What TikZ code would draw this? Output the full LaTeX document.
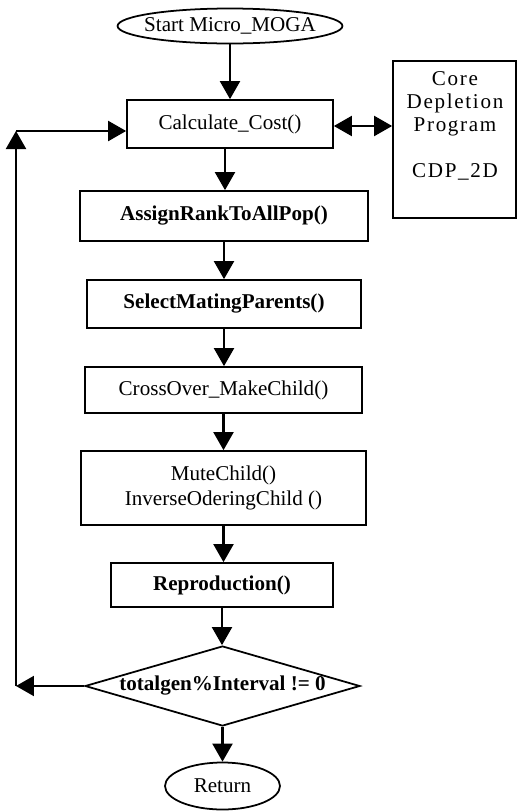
\documentclass[tikz,border=0pt]{standalone}
\usepackage{fontspec}
\setmainfont{Liberation Serif}
\newfontfamily\spacedfont[LetterSpace=8]{Liberation Serif}
\usetikzlibrary{shapes.geometric,arrows.meta}

\begin{document}
\begin{tikzpicture}[x=0.02cm,y=-0.02cm,
  font=\fontsize{12}{14}\selectfont,
  >={Triangle[width=0.4cm,length=0.36cm]},
  box/.style={draw,line width=1pt,inner sep=0pt},
  term/.style={draw,ellipse,line width=1pt,inner sep=0pt},
  decision/.style={draw,diamond,line width=1pt,inner sep=0pt,
    minimum width=5.5cm,minimum height=1.6cm},
  arr/.style={line width=1.2pt,->}]
  \useasboundingbox (0,0) rectangle (517,812);
  % main flow
  \node[term,minimum width=4.5cm,minimum height=0.7cm] (start) at (230,26)
    {\makebox[0pt]{Start Micro\_MOGA}};
  \node[box,minimum width=4.12cm,minimum height=0.96cm] (calc) at (230,124)
    {Calculate\_Cost()};
  \node[box,minimum width=5.76cm,minimum height=1.0cm,font=\fontsize{12}{14}\selectfont\bfseries] (rank) at (224,216)
    {AssignRankToAllPop()};
  \node[box,minimum width=5.48cm,minimum height=0.96cm,font=\fontsize{12}{14}\selectfont\bfseries] (select) at (224,304)
    {SelectMatingParents()};
  \node[box,minimum width=5.54cm,minimum height=0.92cm] (cross) at (223.5,390)
    {CrossOver\_MakeChild()};
  \node[box,minimum width=5.7cm,minimum height=1.48cm,align=center] (mute) at (223.5,488)
    {MuteChild()\\InverseOderingChild ()};
  \node[box,minimum width=4.44cm,minimum height=0.88cm,font=\fontsize{12}{14}\selectfont\bfseries] (repro) at (222,585)
    {Reproduction()};
  \node[decision] (check) at (222.5,686)
    {\makebox[0pt]{\bfseries totalgen\%Interval != 0}};
  \node[term,minimum width=2.3cm,minimum height=0.94cm] (ret) at (222.5,786)
    {\makebox[0pt]{Return}};
  % external program
  \node[box,minimum width=2.46cm,minimum height=3.14cm] (cdp) at (454.5,139.5) {};
  \node[align=center,font=\spacedfont\fontsize{12}{13}\selectfont] (cdptxt) at (455,126)
    {Core\\Depletion\\Program\\[13pt]CDP\_2D};
  % arrows down
  \draw[arr] (start.south) -- (start.south |- calc.north);
  \draw[arr] ([xshift=-0.1cm]calc.south) -- ([xshift=-0.1cm]calc.south |- rank.north);
  \draw[arr] (rank.south) -- (rank.south |- select.north);
  \draw[arr] (select.south) -- (select.south |- cross.north);
  \draw[arr] (cross.south) -- (cross.south |- mute.north);
  \draw[arr] (mute.south) -- (mute.south |- repro.north);
  \draw[arr] (repro.south) -- (repro.south |- check.north);
  \draw[arr] (check.south) -- (check.south |- ret.north);
  % link to CDP_2D
  \draw[line width=1.2pt,<->] ([yshift=-0.04cm]calc.east) -- ([yshift=-0.04cm]calc.east -| cdp.west);
  % loop back
  \coordinate (lpb) at (16,686);
  \coordinate (lpt) at (16,131);
  \draw[arr] (check.west) -- (lpb);
  \draw[arr] (lpb) -- (lpt);
  \draw[arr] (lpt) -- (lpt -| calc.west);
\end{tikzpicture}
\end{document}
